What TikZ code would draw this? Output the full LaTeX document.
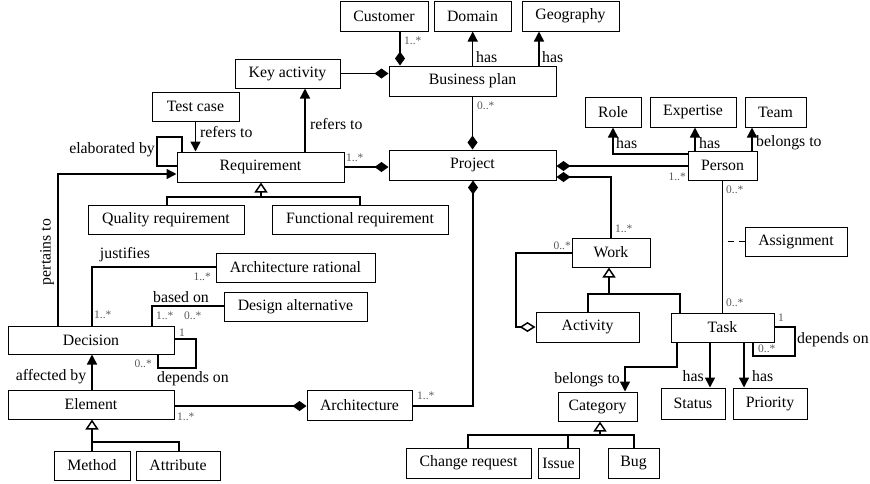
\documentclass[tikz,border=0pt]{standalone}
\usepackage{fontspec}
\setmainfont{Liberation Serif}
\usetikzlibrary{arrows.meta}
\begin{document}
\begin{tikzpicture}[x=1pt,y=-1pt,
 box/.style={draw, line width=1pt, inner sep=0pt, font=\fontsize{15.8}{18}\selectfont},
 conn/.style={line width=1.5pt},
 lbl/.style={font=\fontsize{15.8}{18}\selectfont, inner sep=0pt},
 mult/.style={font=\fontsize{11.5}{12}\selectfont, text=black!65, inner sep=0pt},
 arr/.style={-{Triangle[length=10pt,width=10pt]}},
 comp/.style={-{Diamond[length=14pt,width=10pt]}},
 aggr/.style={-{Diamond[open,length=16pt,width=10pt]}},
 gen/.style={-{Triangle[open,length=10pt,width=13pt]}}]
\useasboundingbox (0,0) rectangle (870,483);
% boxes
\node[box, minimum width=88pt, minimum height=30pt] (cust) at (384,16) {Customer};
\node[box, minimum width=77pt, minimum height=30pt] (dom) at (472.5,16) {Domain};
\node[box, minimum width=97pt, minimum height=30pt] (geo) at (570.5,16) {Geography};
\node[box, minimum width=167pt, minimum height=30pt] (bp) at (472.5,81) {Business plan};
\node[box, minimum width=105pt, minimum height=29pt] (key) at (287.5,73.5) {Key activity};
\node[box, minimum width=87pt, minimum height=29pt] (test) at (195.5,106.5) {Test case};
\node[box, minimum width=167pt, minimum height=30pt] (req) at (260.5,167) {Requirement};
\node[box, minimum width=167pt, minimum height=30pt] (proj) at (472.5,165) {Project};
\node[box, minimum width=156pt, minimum height=29pt] (qual) at (166,219.5) {Quality requirement};
\node[box, minimum width=176pt, minimum height=29pt] (func) at (360,219.5) {Functional requirement};
\node[box, minimum width=159pt, minimum height=29pt] (arat) at (295.5,267.5) {Architecture rational};
\node[box, minimum width=143pt, minimum height=29pt] (dalt) at (295.5,306.5) {Design alternative};
\node[box, minimum width=166pt, minimum height=28pt] (dec) at (91,340) {Decision};
\node[box, minimum width=166pt, minimum height=29pt] (elem) at (91,404.5) {Element};
\node[box, minimum width=76pt, minimum height=29pt] (meth) at (92,465.5) {Method};
\node[box, minimum width=84pt, minimum height=29pt] (attr) at (178,465.5) {Attribute};
\node[box, minimum width=105pt, minimum height=30pt] (arch) at (359.5,405) {Architecture};
\node[box, minimum width=78pt, minimum height=29pt] (work) at (611,252.5) {Work};
\node[box, minimum width=103pt, minimum height=30pt] (act) at (587.5,327) {Activity};
\node[box, minimum width=103pt, minimum height=29pt] (task) at (722.5,327.5) {Task};
\node[box, minimum width=69pt, minimum height=29pt] (pers) at (722.5,165.5) {Person};
\node[box, minimum width=56pt, minimum height=30pt] (role) at (613,112) {Role};
\node[box, minimum width=86pt, minimum height=30pt] (exp) at (693,112) {Expertise};
\node[box, minimum width=61pt, minimum height=30pt] (team) at (775.5,112) {Team};
\node[box, minimum width=102pt, minimum height=29pt] (asg) at (796,241.5) {Assignment};
\node[box, minimum width=64pt, minimum height=31pt] (stat) at (693,403.5) {Status};
\node[box, minimum width=74pt, minimum height=31pt] (prio) at (770,403.5) {Priority};
\node[box, minimum width=79pt, minimum height=29pt] (cat) at (597.5,406.5) {Category};
\node[box, minimum width=125pt, minimum height=30pt] (chg) at (468.5,463) {Change request};
\node[box, minimum width=41pt, minimum height=30pt] (iss) at (558.5,463) {Issue};
\node[box, minimum width=51pt, minimum height=30pt] (bug) at (633.5,463) {Bug};
% business plan
\draw[conn,comp] (cust.south -| 400,0) -- (bp.north -| 400,0);
\node[mult, anchor=west] (m1) at (404,41) {1..*};
\draw[conn,arr] (bp.north -| 472.7,0) -- (dom.south -| 472.7,0);
\node[lbl, anchor=west] (l1) at (476,57) {has};
\draw[conn,arr] (bp.north -| 539,0) -- (geo.south -| 539,0);
\node[lbl, anchor=west] (l2) at (542,57) {has};
\draw[conn,comp] (key.east) -- (key.east -| bp.west);
\draw[conn,comp] (bp.south) -- (proj.north);
\node[mult, anchor=west] (m2) at (477,106) {0..*};
% requirement
\draw[conn,arr] (req.north -| 305,0) -- (key.south -| 305,0);
\node[lbl, anchor=west] (l3) at (310,124) {refers to};
\draw[conn,arr] (test.south) -- (req.north -| test.south);
\node[lbl, anchor=west] (l4) at (200,132) {refers to};
\coordinate (e1) at (182,137);
\coordinate (e2) at (157,137);
\coordinate (e3) at (157,166);
\draw[conn] (req.north -| e1) -- (e1) -- (e2) -- (e3) -- (e3 -| req.west);
\node[lbl, anchor=east] (l5) at (155,150) {elaborated by};
\draw[conn,comp] (req.east) -- (req.east -| proj.west);
\node[mult, anchor=west] (m3) at (346,158) {1..*};
\coordinate (p1) at (58,174);
\draw[conn,arr] (dec.north -| p1) -- (p1) -- (p1 -| req.west);
\node[lbl, rotate=90] (l6) at (47,252) {pertains to};
\coordinate (g1) at (167,197);
\coordinate (g2) at (360,197);
\coordinate (g3) at (261,197);
\draw[conn] (qual.north -| g1) -- (g1) -- (g2) -- (func.north -| g2);
\draw[conn,gen] (g3) -- (req.south -| g3);
% decision
\coordinate (j1) at (92,267);
\draw[conn] (dec.north -| j1) -- (j1) -- (j1 -| arat.west);
\node[lbl] (l7) at (125,255) {justifies};
\node[mult, anchor=east] (m4) at (211,277) {1..*};
\node[mult, anchor=west] (m5) at (94,315) {1..*};
\coordinate (b1) at (152,306);
\draw[conn] (dec.north -| b1) -- (b1) -- (b1 -| dalt.west);
\node[lbl] (l8) at (181,297) {based on};
\node[mult, anchor=west] (m6) at (156,316) {1..*};
\node[mult, anchor=west] (m7) at (184,316) {0..*};
\coordinate (d1) at (196,339);
\coordinate (d2) at (196,368);
\coordinate (d3) at (158,368);
\draw[conn] (d1 -| dec.east) -- (d1) -- (d2) -- (d3) -- (dec.south -| d3);
\node[mult] (m8) at (182,333) {1};
\node[mult, anchor=east] (m9) at (152,364) {0..*};
\node[lbl] (l9) at (193,379) {depends on};
\draw[conn,arr] (elem.north -| 92,0) -- (dec.south -| 92,0);
\node[lbl] (l10) at (51,377) {affected by};
\coordinate (h1) at (92,442);
\coordinate (h2) at (179,442);
\draw[conn] (attr.north -| h2) -- (h2) -- (h1);
\draw[conn,gen] (meth.north -| h1) -- (elem.south -| h1);
% architecture
\coordinate (a1) at (174,406);
\draw[conn,comp] (a1) -- (a1 -| arch.west);
\node[mult, anchor=west] (m10) at (177,417) {1..*};
\coordinate (a2) at (473,406);
\draw[conn,comp] (a2 -| arch.east) -- (a2) -- (proj.south -| a2);
\node[mult, anchor=west] (m11) at (417,396) {1..*};
% person / work
\coordinate (q1) at (688,166);
\draw[conn,comp] (q1) -- (q1 -| proj.east);
\node[mult, anchor=east] (m12) at (686,177) {1..*};
\coordinate (w1) at (611,177);
\draw[conn,comp] (work.north -| w1) -- (w1) -- (w1 -| proj.east);
\node[mult, anchor=west] (m13) at (615,229) {1..*};
\coordinate (v1) at (516,253);
\coordinate (v2) at (516,327);
\draw[conn,aggr] (v1 -| work.west) -- (v1) -- (v2) -- (v2 -| act.west);
\node[mult, anchor=east] (m14) at (571,246) {0..*};
\coordinate (k1) at (588,294);
\coordinate (k2) at (680,294);
\coordinate (k3) at (609,294);
\draw[conn] (act.north -| k1) -- (k1) -- (k2) -- (task.north -| k2);
\draw[conn,gen] (k3) -- (work.south -| k3);
\coordinate (r1) at (613,154);
\draw[conn,arr] (r1 -| pers.west) -- (r1) -- (role.south -| r1);
\node[lbl, anchor=west] (l11) at (616,143) {has};
\draw[conn,arr] (pers.north -| 695,0) -- (exp.south -| 695,0);
\node[lbl, anchor=west] (l12) at (699,143) {has};
\draw[conn,arr] (pers.north -| 752,0) -- (team.south -| 752,0);
\node[lbl, anchor=west] (l13) at (756,143) {belongs to};
\draw[conn] (pers.south) -- (task.north);
\node[mult, anchor=west] (m15) at (726,190) {0..*};
\node[mult, anchor=west] (m16) at (726,303) {0..*};
\draw[conn, dash pattern=on 6pt off 5pt] (asg.west) -- (asg.west -| pers.south);
% task
\coordinate (t1) at (795,327);
\coordinate (t2) at (795,356);
\coordinate (t3) at (753,356);
\draw[conn] (t1 -| task.east) -- (t1) -- (t2) -- (t3) -- (task.south -| t3);
\node[mult] (m17) at (781,318) {1};
\node[mult, anchor=west] (m18) at (758,349) {0..*};
\node[lbl, anchor=west] (l14) at (797,340) {depends on};
\coordinate (c1) at (677,367);
\coordinate (c2) at (625,367);
\draw[conn,arr] (task.south -| c1) -- (c1) -- (c2) -- (cat.north -| c2);
\node[lbl, anchor=east] (l15) at (620,380) {belongs to};
\draw[conn,arr] (task.south -| 710,0) -- (stat.north -| 710,0);
\node[lbl, anchor=east] (l16) at (704,376) {has};
\draw[conn,arr] (task.south -| 744,0) -- (prio.north -| 744,0);
\node[lbl, anchor=west] (l17) at (752,376) {has};
\coordinate (n1) at (468,435);
\coordinate (n2) at (634,435);
\coordinate (n3) at (568,435);
\coordinate (n4) at (600,435);
\draw[conn] (chg.north -| n1) -- (n1) -- (n2) -- (bug.north -| n2);
\draw[conn] (iss.north -| n3) -- (n3);
\draw[conn,gen] (n4) -- (cat.south -| n4);
\end{tikzpicture}
\end{document}
